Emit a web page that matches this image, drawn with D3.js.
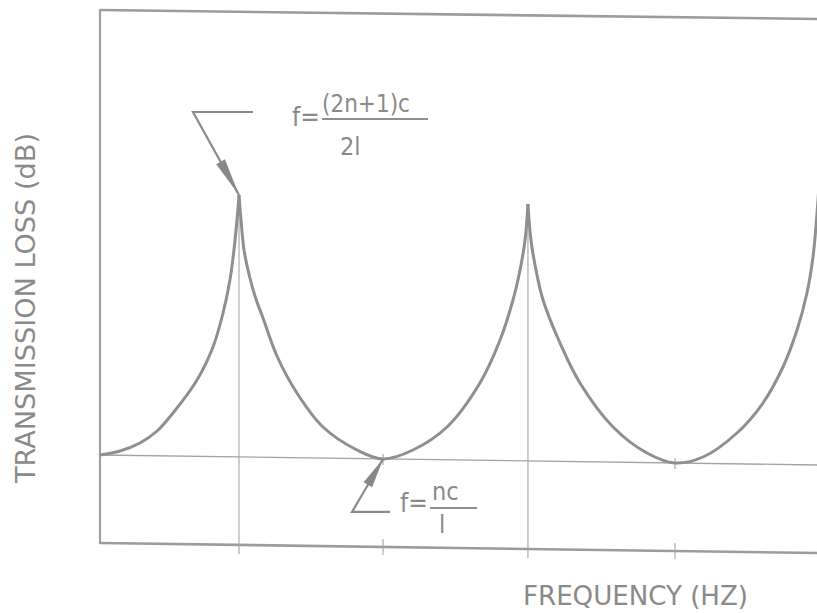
<!DOCTYPE html>
<html><head><meta charset="utf-8">
<script src="https://cdn.jsdelivr.net/npm/d3@7"></script>
<style>
html,body{margin:0;padding:0;background:#fff;}
svg{display:block;}
text{font-family:"DejaVu Sans Condensed","Liberation Sans Narrow","DejaVu Sans",sans-serif;font-stretch:condensed;fill:#8a8a8a;}
</style></head>
<body>
<svg id="chart" width="817" height="613"></svg>
<script>
// ---- data (frequency in units of c/2l, transmission loss in arbitrary dB) ----
const freq = [0.000,0.139,0.278,0.397,0.508,0.675,0.786,0.856,0.904,0.932,0.953,0.967,
              0.981,1.002,1.043,1.085,1.134,1.231,1.370,1.551,1.788,1.969,2.177,
              2.414,2.643,2.783,2.873,2.922,2.957,2.977,2.998,3.033,3.082,
              3.200,3.339,3.569,3.805,4.000,4.195,4.431,4.612,4.751,4.849,
              4.918,4.960,4.988,5.009];
const loss = [0.4,0.8,1.6,2.8,4.6,7.9,11.2,14.6,17.9,20.9,23.9,26.4,
              23.9,20.9,18.1,16.0,14.1,10.3,6.6,3.2,0.9,0.0,0.9,
              3.2,7.6,11.9,15.9,18.9,21.9,25.5,21.9,18.9,15.9,
              11.6,7.6,3.2,0.6,-0.4,0.2,2.6,5.6,9.2,12.9,
              16.6,20.2,24.6,28.9];
const frameFreq = [0, 5];
const topEdge = [44.9, 44.0];
const bottomEdge = [-8.4, -9.4];
const zeroLine = [0.4, -0.6];
const peakFreq = [0.967, 2.977];       // f = (2n+1)c/2l
const peakLoss = [26.4, 25.5];
const troughFreq = [1.969, 4.0];       // f = nc/l
const xTitle = "FREQUENCY (HZ)";
const yTitle = "TRANSMISSION LOSS (dB)";

const svg = d3.select("#chart");
const x = d3.scaleLinear().domain([0, 5]).range([100, 818.75]);
const y = d3.scaleLinear().domain([0, 40]).range([459, 59]);
const ink = "#8f8f8f";

// frame
const edge = vals => d3.line().x((d,i)=>x(frameFreq[i])).y(d=>y(d))(vals);
svg.append("path").attr("d", edge(topEdge)).attr("stroke", "#9c9c9c").attr("stroke-width", 2.6).attr("fill","none");
svg.append("path").attr("d", edge(bottomEdge)).attr("stroke", "#9c9c9c").attr("stroke-width", 2.6).attr("fill","none");
svg.append("line").attr("x1", x(0)).attr("x2", x(0)).attr("y1", y(topEdge[0])-1).attr("y2", y(bottomEdge[0])+1)
  .attr("stroke", "#a0a0a0").attr("stroke-width", 2.2);
svg.append("path").attr("d", edge(zeroLine)).attr("stroke", "#a3a3a3").attr("stroke-width", 1.3).attr("fill","none");

const lerp = (arr, f) => arr[0] + (arr[1]-arr[0]) * (f - frameFreq[0]) / (frameFreq[1]-frameFreq[0]);

// vertical lines at peaks
peakFreq.forEach((f,i) => {
  svg.append("line").attr("x1", x(f)).attr("x2", x(f))
    .attr("y1", y(peakLoss[i])).attr("y2", y(lerp(bottomEdge, f)) + 9)
    .attr("stroke", "#a5a5a5").attr("stroke-width", 1.1);
});
// ticks at troughs
troughFreq.forEach(f => {
  const yb = y(lerp(bottomEdge, f));
  svg.append("line").attr("x1", x(f)).attr("x2", x(f)).attr("y1", yb-8).attr("y2", yb+8)
    .attr("stroke", "#a5a5a5").attr("stroke-width", 1.1);
  const y0 = y(lerp(zeroLine, f));
  svg.append("line").attr("x1", x(f)).attr("x2", x(f)).attr("y1", y0-5).attr("y2", y0+6)
    .attr("stroke", "#a5a5a5").attr("stroke-width", 1.1);
});

// curve, split into branches at the cusps
const pts = freq.map((f,i)=>({f, v: loss[i]}));
const branches = [];
let cur = [];
pts.forEach((p,i) => {
  cur.push(p);
  const isPeak = i>0 && i<pts.length-1 && p.v > pts[i-1].v && p.v > pts[i+1].v;
  if (isPeak) { branches.push(cur); cur = [p]; }
});
branches.push(cur);
const curve = d3.line().x(d=>x(d.f)).y(d=>y(d.v)).curve(d3.curveCatmullRom.alpha(0.5));
svg.append("defs").append("clipPath").attr("id","clip").append("rect")
  .attr("x",0).attr("y",0).attr("width",817).attr("height",613);
branches.forEach(b => {
  svg.append("path").attr("d", curve(b)).attr("fill","none")
    .attr("stroke", ink).attr("stroke-width", 3).attr("stroke-linejoin","miter").attr("clip-path","url(#clip)");
});

// annotation helper
function pointer(tx, ty, ex, ey, hx, headLen, headW) {
  const g = svg.append("g");
  g.append("path").attr("d", `M${hx},${ey}L${ex},${ey}L${tx},${ty}`)
    .attr("fill","none").attr("stroke", "#8c8c8c").attr("stroke-width", 2.2);
  const dx = ex - tx, dy = ey - ty, L = Math.hypot(dx, dy);
  const ux = dx/L, uy = dy/L;
  const bx = tx + ux*headLen, by = ty + uy*headLen;
  g.append("path").attr("d", `M${tx},${ty}L${bx - uy*headW},${by + ux*headW}L${bx + uy*headW},${by - ux*headW}Z`)
    .attr("fill", "#888");
}

// peak annotation
const p1x = x(peakFreq[0]), p1y = y(peakLoss[0]);
pointer(p1x, p1y, p1x-46, p1y-83, p1x+14, 38, 5);
svg.append("text").attr("x", p1x+53).attr("y", p1y-69).attr("font-size", 26).text("f=");
svg.append("text").attr("x", p1x+83).attr("y", p1y-83).attr("font-size", 25)
  .attr("textLength", 88).attr("lengthAdjust","spacingAndGlyphs").text("(2n+1)c");
svg.append("line").attr("x1", p1x+83).attr("x2", p1x+189).attr("y1", p1y-76).attr("y2", p1y-76)
  .attr("stroke", "#8f8f8f").attr("stroke-width", 2);
svg.append("text").attr("x", p1x+101).attr("y", p1y-40).attr("font-size", 25).text("2l");

// trough annotation
const t1x = x(troughFreq[0]), t1y = y(lerp(zeroLine, troughFreq[0]));
pointer(t1x, t1y, t1x-31, t1y+53, t1x+7, 30, 5);
svg.append("text").attr("x", t1x+17).attr("y", t1y+53).attr("font-size", 26).text("f=");
svg.append("text").attr("x", t1x+49).attr("y", t1y+41).attr("font-size", 25).text("nc");
svg.append("line").attr("x1", t1x+47).attr("x2", t1x+94).attr("y1", t1y+49).attr("y2", t1y+49)
  .attr("stroke", "#8f8f8f").attr("stroke-width", 2);
svg.append("text").attr("x", t1x+56).attr("y", t1y+74).attr("font-size", 25).text("l");

// axis titles
svg.append("text").attr("x", 523).attr("y", 605).attr("font-size", 27)
  .attr("textLength", 225).attr("lengthAdjust","spacingAndGlyphs").text(xTitle);
svg.append("text").attr("transform", "translate(35,483) rotate(-90)").attr("font-size", 27)
  .attr("textLength", 350).attr("lengthAdjust","spacingAndGlyphs").text(yTitle);
</script>
</body></html>
